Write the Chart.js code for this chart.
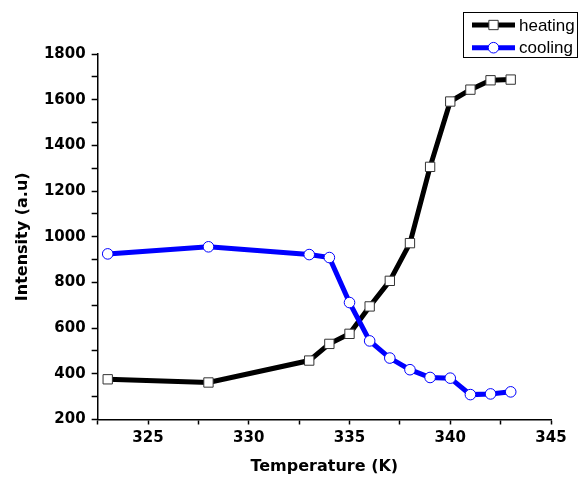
<!DOCTYPE html>
<html>
<head>
  <meta charset="UTF-8">
  <title>heating / cooling</title>
  <script src="https://cdn.jsdelivr.net/npm/chart.js"></script>
  <style>
    body { margin: 0; background: #fff; }
  </style>
</head>
<body>
<canvas id="myChart" width="581" height="477"></canvas>

<script>
  // temperatures (K)
  var temps = [323, 328, 333, 334, 335, 336, 337, 338, 339, 340, 341, 342, 343];
  // intensity (a.u)
  var heating = [376, 362, 458, 531, 575, 695, 807, 972, 1306, 1592, 1644, 1685, 1688];
  var cooling = [925, 956, 922, 909, 712, 544, 469, 418, 384, 381, 309, 312, 321];
  var labels = ['heating', 'cooling'];

  function pts(ys) {
    return temps.map(function (t, i) { return {x: t, y: ys[i]} })
  }

  // legend box like the original (drawn on the canvas)
  var boxLegend = {
    id: 'boxLegend',
    afterDraw: function (chart) {
      var c = chart.ctx
      c.save()
      c.strokeStyle = '#000'
      c.lineWidth = 1
      c.strokeRect(463.5, 12.5, 114, 45)
      chart.data.datasets.forEach(function (ds, i) {
        var y = 25 + i * 22.7
        c.strokeStyle = ds.borderColor
        c.lineWidth = 5
        c.beginPath()
        c.moveTo(472, y)
        c.lineTo(515, y)
        c.stroke()
        c.fillStyle = ds.pointBackgroundColor
        c.strokeStyle = ds.pointBorderColor
        c.lineWidth = ds.pointBorderWidth
        c.beginPath()
        if (ds.pointStyle === 'rect') {
          var s = Math.SQRT1_2 * ds.pointRadius
          c.rect(493.5 - s, y - s, 2 * s, 2 * s)
        } else {
          c.arc(493.5, y, ds.pointRadius, 0, Math.PI * 2)
        }
        c.fill()
        c.stroke()
        c.fillStyle = '#000'
        c.font = '17px "Liberation Sans", Arial, sans-serif'
        c.textBaseline = 'middle'
        c.fillText(ds.label, 519, y + 1)
      })
      c.restore()
    }
  }

  var tickFont = {family: '"DejaVu Sans", Verdana, sans-serif', size: 15, weight: 'bold'}
  var titleFont = {family: '"DejaVu Sans", Verdana, sans-serif', size: 16, weight: 'bold'}

  var ctx = document.getElementById('myChart')
  var chart = new Chart(ctx, {
    type: 'line',
    data: {
      datasets: [{
        label: labels[0],
        data: pts(heating),
        borderColor: '#000000',
        borderWidth: 5,
        pointStyle: 'rect',
        pointRadius: 6.6,
        pointBackgroundColor: '#ffffff',
        pointBorderColor: '#333333',
        pointBorderWidth: 1,
        tension: 0,
        order: 1
      }, {
        label: labels[1],
        data: pts(cooling),
        borderColor: '#0000ff',
        borderWidth: 5,
        pointStyle: 'circle',
        pointRadius: 5.3,
        pointBackgroundColor: '#ffffff',
        pointBorderColor: '#0000ff',
        pointBorderWidth: 1,
        tension: 0,
        order: 0
      }]
    },
    options: {
      responsive: false,
      animation: false,
      layout: {padding: {top: 54, right: 30, bottom: 0, left: 0}},
      plugins: {
        legend: {display: false},
        tooltip: {enabled: false}
      },
      scales: {
        x: {
          type: 'linear',
          min: 322.5,
          max: 345,
          border: {color: '#000', width: 1.5},
          grid: {drawOnChartArea: false, tickLength: 5, color: '#000', tickWidth: 1.5},
          ticks: {
            stepSize: 2.5,
            padding: 5,
            color: '#000',
            font: tickFont,
            maxRotation: 0,
            autoSkip: false,
            callback: function (v) { return v % 5 === 0 ? v : '' }
          },
          title: {display: true, text: 'Temperature (K)', color: '#000', font: titleFont, padding: {top: 4.3, bottom: 1}}
        },
        y: {
          min: 200,
          max: 1800,
          border: {color: '#000', width: 1.5},
          grid: {drawOnChartArea: false, tickLength: 6, color: '#000', tickWidth: 1.5},
          ticks: {
            stepSize: 100,
            padding: 6,
            color: '#000',
            font: tickFont,
            autoSkip: false,
            callback: function (v) { return v % 200 === 0 ? v : '' }
          },
          title: {display: true, text: 'Intensity (a.u)', color: '#000', font: titleFont, padding: {top: 13, bottom: 5.7}}
        }
      }
    },
    plugins: [boxLegend]
  })
</script>
</body>
</html>
